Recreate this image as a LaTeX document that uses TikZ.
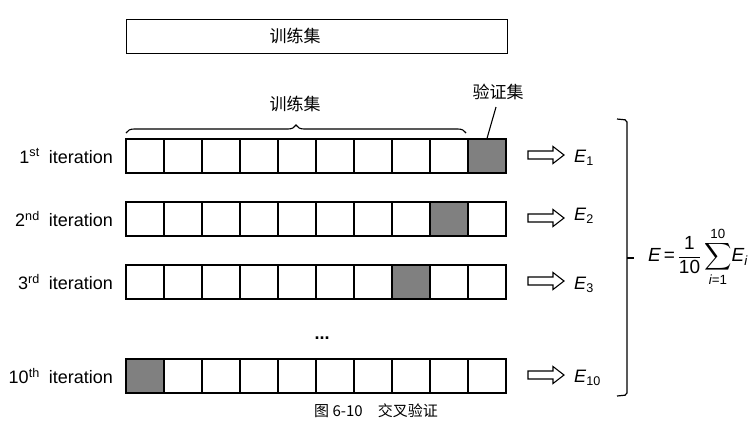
\documentclass[tikz,border=0pt]{standalone}
\usepackage{amsmath}
\usepackage{graphicx}
\usepackage{fontspec}
\setmainfont{Liberation Sans}
\newfontfamily\cjk{Noto Sans CJK SC}
\usetikzlibrary{decorations.pathreplacing}
\definecolor{valgray}{RGB}{128,128,128}
\tikzset{
  cell/.style={draw, line width=1.2pt, minimum width=38pt, minimum height=34pt, inner sep=0pt, fill=white},
  valcell/.style={cell, fill=valgray},
  itlabel/.style={anchor=east, font=\fontsize{18}{20}\selectfont, inner sep=0pt},
  elabel/.style={anchor=west, font=\fontsize{18}{20}\selectfont, inner sep=0pt},
  hollowarrow/.style={draw, line width=1.1pt, line join=miter},
  cjklabel/.style={font=\cjk\fontsize{17}{19}\selectfont, inner sep=0pt},
}
\begin{document}
\begin{tikzpicture}[x=1pt,y=-1pt]
\useasboundingbox (0,0) rectangle (749,432);
% top box
\node[draw, line width=1.2pt, minimum width=381pt, minimum height=34pt, inner sep=0pt, anchor=north west] (top) at (126,19) {};
\node[cjklabel] (toplabel) at (295,36) {训练集};
% rows
\foreach \r/\y/\v in {1/156/10, 2/219/9, 3/282/8, 10/376/1}{
  \foreach \c in {1,...,10}{
    \ifnum\c=\v
      \node[valcell] (r\r c\c) at ({126+19+38*(\c-1)},\y) {};
    \else
      \node[cell] (r\r c\c) at ({126+19+38*(\c-1)},\y) {};
    \fi
  }
  \coordinate (a\r) at (546,\y-1);
  \draw[hollowarrow, shift={(a\r)}] (-18,-4) -- (7,-4) -- (7,-8.5) -- (18,0) -- (7,8.5) -- (7,4) -- (-18,4) -- cycle;
}
\node[itlabel] (l1) at (113,156) {1\textsuperscript{st}\enspace iteration};
\node[itlabel] (l2) at (113,219) {2\textsuperscript{nd}\enspace iteration};
\node[itlabel] (l3) at (113,282) {3\textsuperscript{rd}\enspace iteration};
\node[itlabel] (l10) at (113,376) {10\textsuperscript{th}\enspace iteration};
\node[elabel] (e1) at (574,158) {\textit{E}\textsubscript{1}};
\node[elabel] (e2) at (574,216) {\textit{E}\textsubscript{2}};
\node[elabel] (e3) at (574,285) {\textit{E}\textsubscript{3}};
\node[elabel] (e10) at (574,378) {\textit{E}\textsubscript{10}};
% dots
\node[font=\fontsize{18}{20}\selectfont\bfseries, inner sep=0pt] (dots) at (322,338) {...};
% brace over training set
\coordinate (bl) at (126,133);
\coordinate (br) at (466,133);
\draw[line width=1.1pt, decorate, decoration={brace, amplitude=8pt}] (bl) -- (br);
\node[cjklabel] (trainlabel) at (295,104) {训练集};
% validation label
\node[cjklabel] (vallabel) at (498,92) {验证集};
\coordinate (vtop) at (496,107);
\draw[line width=1.1pt] (vtop) -- (r1c10.north);
% right bracket
\coordinate (bt) at (617,119);
\coordinate (bb) at (617,396);
\draw[line width=1.2pt, rounded corners=2pt] (bt) -- (627,120) -- (627,395) -- (bb);
\coordinate (tick) at (627,258);
\node[inner sep=0pt, anchor=west, font=\fontsize{19}{21}\selectfont] (formula) at (648,257)
  {$\displaystyle \textit{E}\,\text{=}\,\frac{\text{1}}{\text{10}}\mathop{\vcenter{\hbox{\scalebox{1.1}{$\displaystyle\sum$}}}}\limits_{\textit{i}\text{=1}}^{\text{10}}\!\textit{E}_{\textit{i}}$};
\draw[line width=1.2pt] (tick) -- (634,258);
% caption
\node[font=\cjk\fontsize{15}{17}\selectfont, inner sep=0pt] (caption) at (376,411) {图 6-10\quad 交叉验证};
\end{tikzpicture}
\end{document}
